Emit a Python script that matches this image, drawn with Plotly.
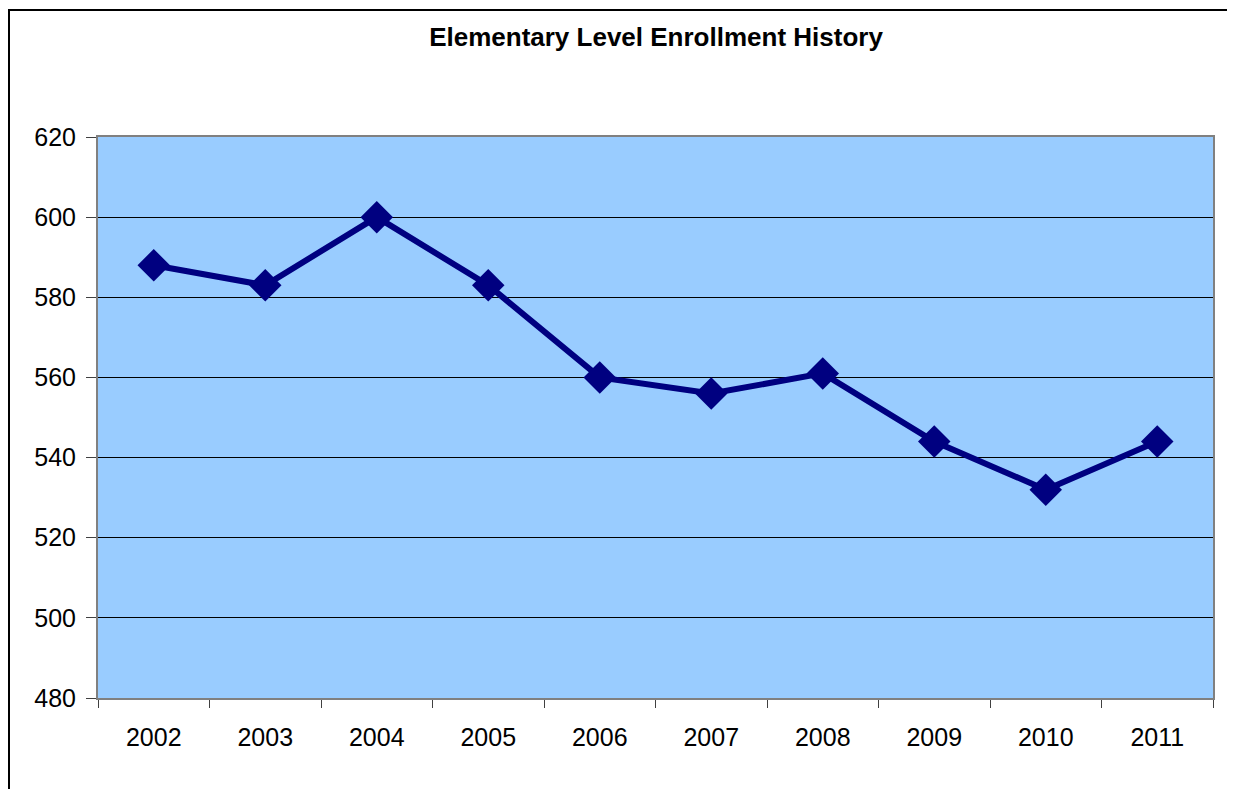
import plotly.graph_objects as go

years = ["2002", "2003", "2004", "2005", "2006", "2007", "2008", "2009", "2010", "2011"]
enrollment = [588, 583, 600, 583, 560, 556, 561, 544, 532, 544]
y_ticks = [480, 500, 520, 540, 560, 580, 600, 620]

FONT = "Liberation Sans, Arial, sans-serif"

fig = go.Figure(go.Scatter(
    x=years, y=enrollment,
    mode="lines+markers",
    line=dict(color="#000080", width=6),
    marker=dict(symbol="diamond", size=25, color="#000080"),
))

fig.update_layout(
    width=1235, height=789,
    margin=dict(l=90, r=30, t=129, b=99),
    paper_bgcolor="white", plot_bgcolor="#99CCFF",
    showlegend=False,
    title=dict(
        text="<b>Elementary Level Enrollment History</b>",
        x=648 / 1235, xanchor="center", y=1 - 29 / 789, yanchor="middle",
        font=dict(family=FONT, size=26, color="black"),
    ),
    xaxis=dict(
        type="category", showgrid=False, zeroline=False,
        tickson="boundaries", ticks="outside", ticklen=8, tickcolor="#404040",
        showline=True, linecolor="#808080", linewidth=2, mirror=True,
        tickfont=dict(family=FONT, size=25, color="black"),
        ticklabelstandoff=16,
        range=[-0.5, 9.5],
    ),
    yaxis=dict(
        range=[480, 620], tickvals=y_ticks,
        showgrid=True, gridcolor="black", gridwidth=1, zeroline=False,
        ticks="outside", ticklen=10, tickcolor="#404040",
        showline=True, linecolor="#808080", linewidth=2, mirror=True,
        tickfont=dict(family=FONT, size=25, color="black"),
        ticklabelstandoff=5,
    ),
    shapes=[dict(
        type="rect", xref="paper", yref="paper",
        x0=-89 / 1115, x1=1137 / 1115,
        y0=-120 / 561, y1=(561 + 127) / 561,
        line=dict(color="black", width=2), fillcolor="rgba(0,0,0,0)",
        layer="below",
    )],
)

fig.write_html("out.html")
